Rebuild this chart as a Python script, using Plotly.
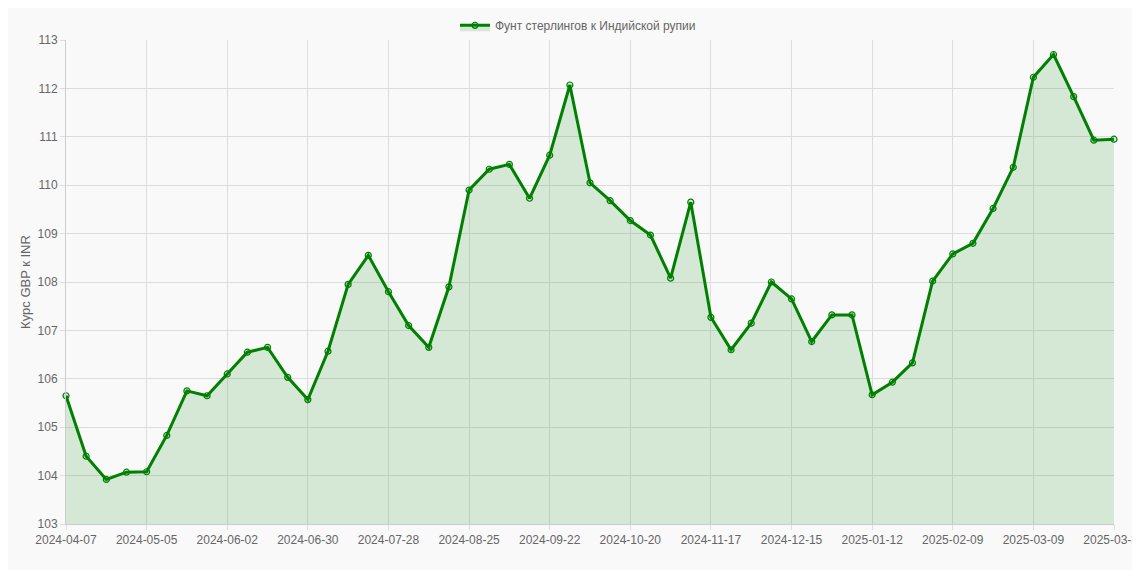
import plotly.graph_objects as go
import pandas as pd

dates = [d.strftime("%Y-%m-%d") for d in pd.date_range("2024-04-07", periods=52, freq="7D")] + ["2025-03-31"]
rates = [105.65,104.4,103.92,104.07,104.08,104.83,105.75,105.65,106.1,106.55,106.65,106.03,105.57,
         106.57,107.95,108.55,107.8,107.1,106.65,107.9,109.9,110.33,110.43,109.73,110.62,112.07,
         110.05,109.68,109.27,108.97,108.08,109.65,107.27,106.6,107.15,108.0,107.65,106.77,107.32,
         107.32,105.67,105.93,106.33,108.02,108.58,108.8,109.52,110.37,112.23,112.7,111.83,110.93,110.95]
tick_idx = list(range(0, 52, 4)) + [52]

fig = go.Figure(go.Scatter(
    x=list(range(len(dates))), y=rates, mode="lines+markers",
    name="Фунт стерлингов к Индийской рупии",
    line=dict(color="green", width=3),
    marker=dict(size=6, color="rgba(0,128,0,0.15)", line=dict(color="green", width=1.2)),
    fill="tozeroy", fillcolor="rgba(0,128,0,0.14)", cliponaxis=False,
    text=dates, hovertemplate="%{text}: %{y}<extra></extra>"))

fig.update_layout(
    width=1140, height=570, paper_bgcolor="#f9f9f9", plot_bgcolor="#f9f9f9",
    margin=dict(l=58, r=34, t=32, b=54, autoexpand=False),
    font=dict(family="Liberation Sans, Arial", size=12, color="#666"),
    showlegend=True,
    legend=dict(orientation="h", x=0.5, xanchor="center", xref="container",
                y=0.995, yanchor="top", yref="container",
                font=dict(size=12, color="#666")),
    xaxis=dict(range=[0, 52], tickvals=tick_idx, automargin=False,
               ticktext=[dates[i] for i in tick_idx], showgrid=True, gridcolor="#ddd",
               zeroline=False, showline=True, linecolor="#ccc", ticks="outside", tickcolor="#ddd"),
    yaxis=dict(range=[103, 113], dtick=1, showgrid=True, gridcolor="#ddd", zeroline=False,
               automargin=False,
               showline=True, linecolor="#ccc", ticks="outside", tickcolor="#ddd",
               title=dict(text="Курс GBP к INR", font=dict(size=13, color="#666"), standoff=4)),
)
fig.write_html("out.html")
